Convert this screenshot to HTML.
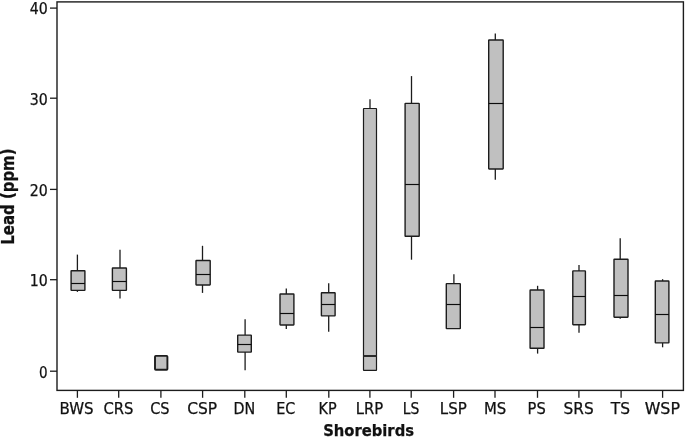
<!DOCTYPE html>
<html><head><meta charset="utf-8"><title>Lead in Shorebirds</title>
<style>html,body{margin:0;padding:0;background:#fff}svg{display:block}text{font-family:"DejaVu Sans Condensed","DejaVu Sans","Liberation Sans",sans-serif;fill:#111;stroke:#111;stroke-width:0.25px}</style></head><body>
<svg width="685" height="438" viewBox="0 0 685 438">
<rect x="0" y="0" width="685" height="438" fill="#fff"/>
<rect x="57.0" y="1.9" width="626.4" height="388.5" fill="none" stroke="#1c1c1c" stroke-width="1.4"/>
<line x1="50" y1="371.2" x2="57.0" y2="371.2" stroke="#1c1c1c" stroke-width="1.3"/>
<text x="47.7" y="377.6" font-size="16.6" text-anchor="end" textLength="8.6" lengthAdjust="spacingAndGlyphs">0</text>
<line x1="50" y1="279.7" x2="57.0" y2="279.7" stroke="#1c1c1c" stroke-width="1.3"/>
<text x="47.7" y="286.1" font-size="16.6" text-anchor="end" textLength="18.0" lengthAdjust="spacingAndGlyphs">10</text>
<line x1="50" y1="189.4" x2="57.0" y2="189.4" stroke="#1c1c1c" stroke-width="1.3"/>
<text x="47.7" y="195.8" font-size="16.6" text-anchor="end" textLength="18.0" lengthAdjust="spacingAndGlyphs">20</text>
<line x1="50" y1="98.2" x2="57.0" y2="98.2" stroke="#1c1c1c" stroke-width="1.3"/>
<text x="47.7" y="104.5" font-size="16.6" text-anchor="end" textLength="18.0" lengthAdjust="spacingAndGlyphs">30</text>
<line x1="50" y1="8.1" x2="57.0" y2="8.1" stroke="#1c1c1c" stroke-width="1.3"/>
<text x="47.7" y="14.4" font-size="16.6" text-anchor="end" textLength="18.0" lengthAdjust="spacingAndGlyphs">40</text>
<line x1="77.4" y1="390.4" x2="77.4" y2="397.8" stroke="#1c1c1c" stroke-width="1.3"/>
<text x="59.5" y="413.9" font-size="16.3" textLength="34.1" lengthAdjust="spacingAndGlyphs">BWS</text>
<line x1="118.7" y1="390.4" x2="118.7" y2="397.8" stroke="#1c1c1c" stroke-width="1.3"/>
<text x="103.4" y="413.9" font-size="16.3" textLength="30.0" lengthAdjust="spacingAndGlyphs">CRS</text>
<line x1="160.9" y1="390.4" x2="160.9" y2="397.8" stroke="#1c1c1c" stroke-width="1.3"/>
<text x="150.2" y="413.9" font-size="16.3" textLength="19.4" lengthAdjust="spacingAndGlyphs">CS</text>
<line x1="202.6" y1="390.4" x2="202.6" y2="397.8" stroke="#1c1c1c" stroke-width="1.3"/>
<text x="187.2" y="413.9" font-size="16.3" textLength="29.9" lengthAdjust="spacingAndGlyphs">CSP</text>
<line x1="244.8" y1="390.4" x2="244.8" y2="397.8" stroke="#1c1c1c" stroke-width="1.3"/>
<text x="233.4" y="413.9" font-size="16.3" textLength="21.7" lengthAdjust="spacingAndGlyphs">DN</text>
<line x1="286.3" y1="390.4" x2="286.3" y2="397.8" stroke="#1c1c1c" stroke-width="1.3"/>
<text x="276.2" y="413.9" font-size="16.3" textLength="19.1" lengthAdjust="spacingAndGlyphs">EC</text>
<line x1="328.8" y1="390.4" x2="328.8" y2="397.8" stroke="#1c1c1c" stroke-width="1.3"/>
<text x="318.6" y="413.9" font-size="16.3" textLength="18.1" lengthAdjust="spacingAndGlyphs">KP</text>
<line x1="369.9" y1="390.4" x2="369.9" y2="397.8" stroke="#1c1c1c" stroke-width="1.3"/>
<text x="355.8" y="413.9" font-size="16.3" textLength="27.4" lengthAdjust="spacingAndGlyphs">LRP</text>
<line x1="411.2" y1="390.4" x2="411.2" y2="397.8" stroke="#1c1c1c" stroke-width="1.3"/>
<text x="402.8" y="413.9" font-size="16.3" textLength="16.6" lengthAdjust="spacingAndGlyphs">LS</text>
<line x1="453.6" y1="390.4" x2="453.6" y2="397.8" stroke="#1c1c1c" stroke-width="1.3"/>
<text x="439.8" y="413.9" font-size="16.3" textLength="26.9" lengthAdjust="spacingAndGlyphs">LSP</text>
<line x1="495.0" y1="390.4" x2="495.0" y2="397.8" stroke="#1c1c1c" stroke-width="1.3"/>
<text x="484.0" y="413.9" font-size="16.3" textLength="22.3" lengthAdjust="spacingAndGlyphs">MS</text>
<line x1="537.5" y1="390.4" x2="537.5" y2="397.8" stroke="#1c1c1c" stroke-width="1.3"/>
<text x="527.6" y="413.9" font-size="16.3" textLength="18.1" lengthAdjust="spacingAndGlyphs">PS</text>
<line x1="578.9" y1="390.4" x2="578.9" y2="397.8" stroke="#1c1c1c" stroke-width="1.3"/>
<text x="563.6" y="413.9" font-size="16.3" textLength="30.1" lengthAdjust="spacingAndGlyphs">SRS</text>
<line x1="621.1" y1="390.4" x2="621.1" y2="397.8" stroke="#1c1c1c" stroke-width="1.3"/>
<text x="610.8" y="413.9" font-size="16.3" textLength="19.2" lengthAdjust="spacingAndGlyphs">TS</text>
<line x1="662.6" y1="390.4" x2="662.6" y2="397.8" stroke="#1c1c1c" stroke-width="1.3"/>
<text x="644.7" y="413.9" font-size="16.3" textLength="35.3" lengthAdjust="spacingAndGlyphs">WSP</text>
<line x1="77.4" y1="254.6" x2="77.4" y2="270.7" stroke="#1c1c1c" stroke-width="1.3"/>
<line x1="77.4" y1="290.4" x2="77.4" y2="291.9" stroke="#1c1c1c" stroke-width="1.3"/>
<rect x="71.1" y="270.7" width="13.8" height="19.7" fill="#c0c0c0" stroke="#1c1c1c" stroke-width="1.4" rx="0.4"/>
<line x1="71.1" y1="283.5" x2="84.9" y2="283.5" stroke="#0c0c0c" stroke-width="1.15"/>
<line x1="120.0" y1="249.8" x2="120.0" y2="268" stroke="#1c1c1c" stroke-width="1.3"/>
<line x1="120.0" y1="290.4" x2="120.0" y2="298.5" stroke="#1c1c1c" stroke-width="1.3"/>
<rect x="112.4" y="268" width="14.0" height="22.4" fill="#c0c0c0" stroke="#1c1c1c" stroke-width="1.4" rx="0.4"/>
<line x1="112.4" y1="281.5" x2="126.4" y2="281.5" stroke="#0c0c0c" stroke-width="1.15"/>
<rect x="155.0" y="355.9" width="12.4" height="13.9" fill="#c0c0c0" stroke="#1c1c1c" stroke-width="1.9" rx="0.8"/>
<line x1="202.5" y1="245.8" x2="202.5" y2="260.5" stroke="#1c1c1c" stroke-width="1.3"/>
<line x1="202.5" y1="285" x2="202.5" y2="292.9" stroke="#1c1c1c" stroke-width="1.3"/>
<rect x="196.0" y="260.5" width="14.2" height="24.5" fill="#c0c0c0" stroke="#1c1c1c" stroke-width="1.4" rx="0.4"/>
<line x1="196.0" y1="274.5" x2="210.2" y2="274.5" stroke="#0c0c0c" stroke-width="1.15"/>
<line x1="245.1" y1="319.2" x2="245.1" y2="335.1" stroke="#1c1c1c" stroke-width="1.3"/>
<line x1="245.1" y1="352.1" x2="245.1" y2="370.2" stroke="#1c1c1c" stroke-width="1.3"/>
<rect x="237.7" y="335.1" width="13.6" height="17.0" fill="#c0c0c0" stroke="#1c1c1c" stroke-width="1.4" rx="0.4"/>
<line x1="237.7" y1="344.5" x2="251.3" y2="344.5" stroke="#0c0c0c" stroke-width="1.15"/>
<line x1="286.3" y1="288.5" x2="286.3" y2="294" stroke="#1c1c1c" stroke-width="1.3"/>
<line x1="286.3" y1="325" x2="286.3" y2="329.1" stroke="#1c1c1c" stroke-width="1.3"/>
<rect x="280.0" y="294" width="13.9" height="31.0" fill="#c0c0c0" stroke="#1c1c1c" stroke-width="1.4" rx="0.4"/>
<line x1="280.0" y1="313.5" x2="293.9" y2="313.5" stroke="#0c0c0c" stroke-width="1.15"/>
<line x1="328.7" y1="283.3" x2="328.7" y2="292.8" stroke="#1c1c1c" stroke-width="1.3"/>
<line x1="328.7" y1="315.9" x2="328.7" y2="331.7" stroke="#1c1c1c" stroke-width="1.3"/>
<rect x="321.4" y="292.8" width="13.7" height="23.1" fill="#c0c0c0" stroke="#1c1c1c" stroke-width="1.4" rx="0.4"/>
<line x1="321.4" y1="304.5" x2="335.1" y2="304.5" stroke="#0c0c0c" stroke-width="1.15"/>
<line x1="370.0" y1="99.2" x2="370.0" y2="108.5" stroke="#1c1c1c" stroke-width="1.3"/>
<rect x="363.5" y="108.5" width="13.0" height="261.9" fill="#c0c0c0" stroke="#1c1c1c" stroke-width="1.2" rx="0.4"/>
<line x1="363.5" y1="356.0" x2="376.5" y2="356.0" stroke="#2a2a2a" stroke-width="2.0"/>
<line x1="411.5" y1="76.1" x2="411.5" y2="103.4" stroke="#1c1c1c" stroke-width="1.3"/>
<line x1="411.5" y1="236.3" x2="411.5" y2="259.7" stroke="#1c1c1c" stroke-width="1.3"/>
<rect x="405.1" y="103.4" width="14.1" height="132.9" fill="#c0c0c0" stroke="#1c1c1c" stroke-width="1.4" rx="0.4"/>
<line x1="405.1" y1="184.5" x2="419.2" y2="184.5" stroke="#0c0c0c" stroke-width="1.15"/>
<line x1="453.9" y1="274.2" x2="453.9" y2="283.6" stroke="#1c1c1c" stroke-width="1.3"/>
<rect x="446.3" y="283.6" width="14.0" height="45.0" fill="#c0c0c0" stroke="#1c1c1c" stroke-width="1.4" rx="0.4"/>
<line x1="446.3" y1="304.5" x2="460.3" y2="304.5" stroke="#0c0c0c" stroke-width="1.15"/>
<line x1="495.3" y1="33.5" x2="495.3" y2="40" stroke="#1c1c1c" stroke-width="1.3"/>
<line x1="495.3" y1="169" x2="495.3" y2="179.7" stroke="#1c1c1c" stroke-width="1.3"/>
<rect x="488.7" y="40" width="14.5" height="129.0" fill="#c0c0c0" stroke="#1c1c1c" stroke-width="1.4" rx="0.4"/>
<line x1="488.7" y1="103.5" x2="503.2" y2="103.5" stroke="#0c0c0c" stroke-width="1.15"/>
<line x1="537.6" y1="285.8" x2="537.6" y2="290" stroke="#1c1c1c" stroke-width="1.3"/>
<line x1="537.6" y1="348.3" x2="537.6" y2="353.6" stroke="#1c1c1c" stroke-width="1.3"/>
<rect x="530.1" y="290" width="13.9" height="58.3" fill="#c0c0c0" stroke="#1c1c1c" stroke-width="1.4" rx="0.4"/>
<line x1="530.1" y1="327.5" x2="544.0" y2="327.5" stroke="#0c0c0c" stroke-width="1.15"/>
<line x1="579.0" y1="265.1" x2="579.0" y2="270.9" stroke="#1c1c1c" stroke-width="1.3"/>
<line x1="579.0" y1="324.7" x2="579.0" y2="332.7" stroke="#1c1c1c" stroke-width="1.3"/>
<rect x="572.8" y="270.9" width="12.6" height="53.8" fill="#c0c0c0" stroke="#1c1c1c" stroke-width="1.4" rx="0.4"/>
<line x1="572.8" y1="296.5" x2="585.4" y2="296.5" stroke="#0c0c0c" stroke-width="1.15"/>
<line x1="620.2" y1="238.3" x2="620.2" y2="259.2" stroke="#1c1c1c" stroke-width="1.3"/>
<line x1="620.2" y1="317.2" x2="620.2" y2="318.7" stroke="#1c1c1c" stroke-width="1.3"/>
<rect x="614.0" y="259.2" width="14.0" height="58.0" fill="#c0c0c0" stroke="#1c1c1c" stroke-width="1.4" rx="0.4"/>
<line x1="614.0" y1="295.5" x2="628.0" y2="295.5" stroke="#0c0c0c" stroke-width="1.15"/>
<line x1="662.6" y1="279.2" x2="662.6" y2="281" stroke="#1c1c1c" stroke-width="1.3"/>
<line x1="662.6" y1="342.9" x2="662.6" y2="347.3" stroke="#1c1c1c" stroke-width="1.3"/>
<rect x="655.3" y="281" width="13.6" height="61.9" fill="#c0c0c0" stroke="#1c1c1c" stroke-width="1.4" rx="0.4"/>
<line x1="655.3" y1="314.5" x2="668.9" y2="314.5" stroke="#0c0c0c" stroke-width="1.15"/>
<text x="323.2" y="436" font-size="16.4" font-weight="bold" textLength="90.8" lengthAdjust="spacingAndGlyphs">Shorebirds</text>
<text transform="translate(14.1,244.7) rotate(-90)" font-size="16.8" font-weight="bold" textLength="96.2" lengthAdjust="spacingAndGlyphs">Lead (ppm)</text>
</svg></body></html>
